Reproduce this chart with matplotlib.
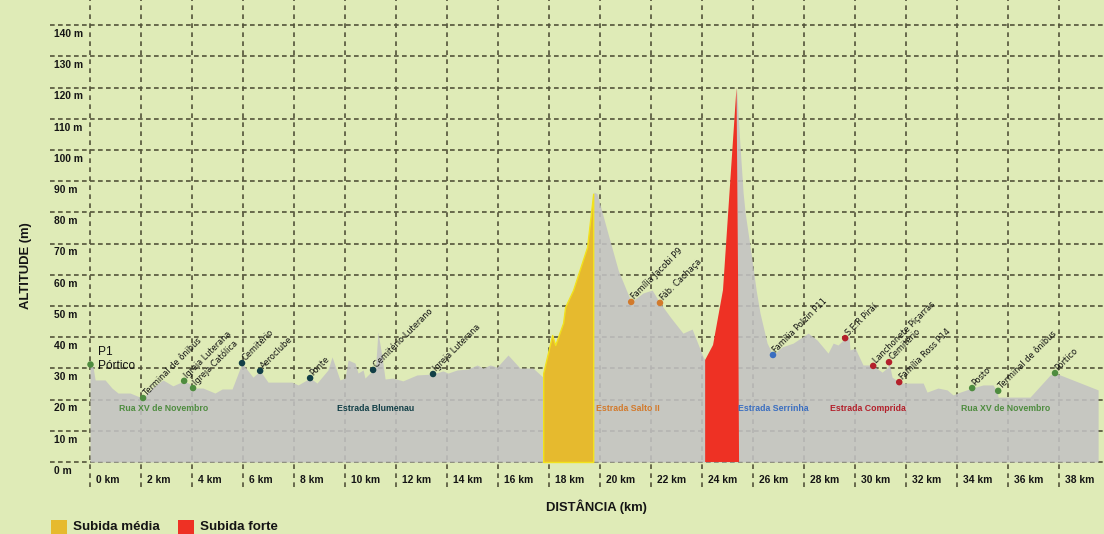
import numpy as np
import matplotlib.pyplot as plt

# perfil altimetrico (km, m)
dist_km = [0.0, 0.12, 0.2, 0.59, 0.86, 1.1, 1.57, 1.84, 2.08, 2.43, 2.86, 3.25, 3.69, 3.92, 4.04,
           4.43, 4.9, 5.18, 5.57, 5.96, 6.39, 6.67, 6.98, 7.45, 7.92, 8.16, 8.63, 8.9, 9.33, 9.49,
           9.8, 10.0, 10.12, 10.39, 10.51, 10.71, 10.78, 11.1, 11.2, 11.29, 11.45, 11.57, 11.88,
           12.27, 12.82, 13.45, 13.84, 14.04, 14.39, 14.82, 15.18, 15.41, 15.69, 15.96, 16.39,
           16.86, 17.37, 17.76, 17.77, 18.12, 18.24, 18.55, 18.63, 18.94, 19.49, 19.76, 19.88,
           20.27, 20.71, 21.22, 21.69, 22.04, 22.35, 22.75, 23.25, 23.61, 24.04, 24.12, 24.43,
           24.82, 25.35, 25.49, 25.61, 25.69, 25.92, 26.12, 26.27, 26.55, 26.78, 27.14, 27.57,
           28.16, 28.51, 28.94, 29.14, 29.33, 29.61, 29.76, 29.8, 30.0, 30.31, 30.59, 30.71,
           31.06, 31.29, 31.33, 31.45, 31.73, 31.88, 32.67, 32.82, 33.25, 33.61, 33.84, 34.12,
           34.59, 35.02, 35.41, 35.57, 35.61, 36.86, 37.65, 37.84, 38.04, 39.53]
alt_m = [31.4, 30.4, 26.3, 26.3, 23.7, 22.1, 22.1, 21.2, 20.5, 23.7, 26.3, 24.4, 26.0, 25.0, 23.7,
         23.7, 22.1, 23.4, 23.4, 31.7, 27.2, 29.2, 25.6, 25.6, 25.6, 24.7, 26.9, 25.3, 29.5, 33.7,
         26.3, 26.9, 32.7, 31.7, 28.5, 29.5, 26.9, 29.5, 30.8, 41.7, 33.7, 26.6, 26.9,
         26.0, 27.9, 28.2, 29.2, 28.5, 29.5, 29.8, 31.1, 30.1, 31.1, 30.4, 34.3,
         30.1, 30.1, 27.2, 28.5, 40.7, 37.5, 44.6, 49.7, 55.1, 68.9, 86.5, 86.0,
         74.4, 61.5, 51.3, 54.2, 55.1, 51.0, 46.5, 41.3, 42.6, 33.7, 32.7, 37.5,
         55.1, 120.0, 101.0, 86.2, 79.8, 67.0, 55.1, 47.8, 38.1, 34.3, 36.9, 38.1,
         41.3, 39.1, 34.9, 38.1, 37.5, 39.7, 40.1, 35.9, 36.5, 31.1, 31.1, 30.8,
         28.8, 30.4, 32.0, 27.2, 25.6, 25.3, 25.3, 22.4, 23.7, 23.1, 21.5, 22.4,
         23.7, 24.7, 24.7, 22.4, 20.8, 20.8, 27.9, 28.5, 27.9, 23.1]

# subidas
media_km = [17.77, 18.12, 18.24, 18.55, 18.63, 18.94, 19.49, 19.73]
media_alt = [28.5, 40.7, 37.5, 44.6, 49.7, 55.1, 68.9, 86.0]
forte_km = [24.12, 24.43, 24.82, 25.35, 25.41, 25.45]
forte_alt = [32.7, 37.5, 55.1, 120.0, 60.0, 0.0]

# pontos de referencia
poi_names = ['Terminal de ônibus', 'Igreja Luterana', 'Igreja Católica', 'Cemitério', 'Aeroclube',
             'Ponte', 'Cemitério Luterano', 'Igreja Luterana', 'Família Jacobi P9', 'Fáb. Cachaça',
             'Família Polzin P11', 'S.E.R Piraí', 'Lanchonete Piçarras', 'Cemitério',
             'Família Ross P14', 'Posto', 'Terminal de ônibus', 'Pórtico']
poi_km = [2.08, 3.69, 4.04, 5.96, 6.67, 8.63, 11.1, 13.45, 21.22, 22.35,
          26.78, 29.61, 30.71, 31.33, 31.73, 34.59, 35.61, 37.84]
poi_alt = [20.5, 26.0, 23.7, 31.7, 29.2, 26.9, 29.5, 28.2, 51.3, 51.0,
           34.3, 39.7, 30.8, 32.0, 25.6, 23.7, 22.8, 28.5]

roads = ['Rua XV de Novembro', 'Estrada Blumenau', 'Estrada Salto II', 'Estrada Serrinha',
         'Estrada Comprida', 'Rua XV de Novembro']
road_km = [2.9, 11.18, 21.1, 26.8, 30.5, 35.9]

green = '#4E8C3F'
teal = '#123F47'
orange = '#D27A2C'
blue = '#3A6EC0'
dred = '#B3202B'
road_colors = [green, teal, orange, blue, dred, green]
poi_colors = [green, green, green, teal, teal, teal, teal, teal, orange, orange,
              blue, dred, dred, dred, dred, green, green, green]

y_ticks = list(range(0, 141, 10))
x_ticks = list(range(0, 39, 2))

bg = '#DFEBB7'
plt.rcParams['font.family'] = ['Liberation Sans', 'DejaVu Sans']

fig = plt.figure(figsize=(11.04, 5.34), dpi=100, facecolor=bg)
ax = fig.add_axes([0, 0, 1, 1])
ax.set_facecolor(bg)
ax.set_xlim(-3.53, 39.76)
ax.set_ylim(-23.08, 148.08)
ax.axis('off')

grid_c = '#53533A'
ax.hlines(y_ticks, -1.57, 39.76, colors=grid_c, linewidth=1.2,
          linestyles=(0, (2.8, 2.0)), zorder=1)
ax.vlines(x_ticks, -8, 150, colors=grid_c, linewidth=1.2,
          linestyles=(0, (2.8, 2.6)), zorder=1)

ax.fill_between(dist_km, 0, alt_m, color='#C3C2C3', alpha=0.88, linewidth=0, zorder=2)
ax.fill_between(media_km, 0, media_alt, facecolor='#E6BA2E', edgecolor='#F2E21C',
                linewidth=1.0, zorder=3)
ax.fill_between(forte_km, 0, forte_alt, facecolor='#EE3124', linewidth=0, zorder=3)

ax.scatter(poi_km, poi_alt, s=22, c=poi_colors, zorder=5, linewidths=0)
ax.scatter([dist_km[0]], [alt_m[0]], s=22, c=green, zorder=5, linewidths=0)
ax.text(0.3, 33.0, 'P1\nPórtico', fontsize=8.6, color='#111111', ha='left', va='center',
        linespacing=1.25, zorder=6)
for name, x, y in zip(poi_names, poi_km, poi_alt):
    ax.annotate(name, (x, y), xytext=(3.5, 0.5), textcoords='offset points', rotation=45,
                rotation_mode='anchor', ha='left', va='bottom', fontsize=6.6,
                family='DejaVu Sans', fontstretch='condensed', color='#111111', zorder=6)

for name, x, c in zip(roads, road_km, road_colors):
    ax.text(x, 17.3, name, fontsize=6.3, fontweight='bold', color=c, ha='center',
            va='center', zorder=6)

for v in y_ticks:
    ax.text(-1.41, v - 2.8, f'{v} m', fontsize=7.4, fontweight='bold', color='#151515',
            ha='left', va='center')
for v in x_ticks:
    ax.text(v + 0.23, -5.8, f'{v} km', fontsize=7.4, fontweight='bold', color='#151515',
            ha='left', va='center')

ax.text(-2.5, 63.0, 'ALTITUDE (m)', rotation=90, fontsize=9.4, fontweight='bold',
        color='#151515', ha='center', va='center')
ax.text(19.84, -14.4, 'DISTÂNCIA (km)', fontsize=9.4, fontweight='bold',
        color='#151515', ha='center', va='center')

# legenda
ax.fill_between([-1.53, -0.9], -23.5, -18.6, color='#E6BA2E', linewidth=0)
ax.text(-0.67, -20.9, 'Subida média', fontsize=9.6, fontweight='bold', color='#151515',
        ha='left', va='center')
ax.fill_between([3.45, 4.08], -23.5, -18.6, color='#EE3124', linewidth=0)
ax.text(4.3, -20.9, 'Subida forte', fontsize=9.6, fontweight='bold', color='#151515',
        ha='left', va='center')

fig.savefig('out.png', dpi=100, facecolor=bg)
